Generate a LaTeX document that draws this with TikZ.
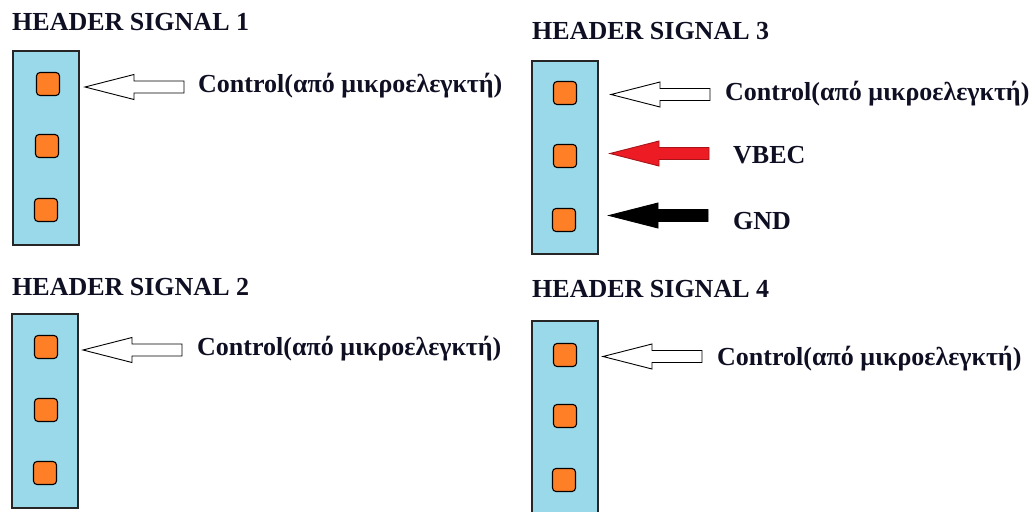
\documentclass[tikz,border=0pt]{standalone}
\usepackage{fontspec}
\setmainfont{Liberation Serif}
\begin{document}
\begin{tikzpicture}[x=1pt,y=-1pt]
\definecolor{pinblue}{RGB}{153,217,234}
\definecolor{padorange}{RGB}{255,127,39}
\definecolor{wirered}{RGB}{237,28,36}
\definecolor{inkc}{RGB}{15,15,35}
\tikzset{
  hdrbox/.style={draw=black!85, line width=1.6pt, fill=pinblue, minimum width=66pt, inner sep=0pt},
  pad/.style={draw=black, line width=1.1pt, fill=padorange, rounded corners=3.5pt, minimum size=23pt, inner sep=0pt},
  title/.style={anchor=base west, inner sep=0pt, font=\fontsize{26}{28}\selectfont\bfseries, text=inkc},
  sig/.style={anchor=base west, inner sep=0pt, font=\fontsize{26}{28}\selectfont\bfseries, text=inkc},
  pics/blockarrow/.style={code={
    \draw[line width=0.9pt, #1] (0,0) -- (49,-12.5) -- (49,-6) -- (99,-6) -- (99,6) -- (49,6) -- (49,12.5) -- cycle;
  }}
}
\useasboundingbox (0,0) rectangle (1035,511);

% ---- header 1 ----
\node[title] (t1) at (12,31) {HEADER SIGNAL 1};
\node[hdrbox, minimum height=194pt] (b1) at (46,148) {};
\node[pad] (p11) at (48,84) {};
\node[pad] (p12) at (47,146) {};
\node[pad] (p13) at (46,210) {};
\pic at (85,87) {blockarrow={draw=black, fill=white}};
\node[sig] (c1) at (198,92) {Control(από μικροελεγκτή)};

% ---- header 2 ----
\node[title] (t2) at (12,295) {HEADER SIGNAL 2};
\node[hdrbox, minimum height=194pt] (b2) at (45,411) {};
\node[pad] (p21) at (46,347) {};
\node[pad] (p22) at (46,410) {};
\node[pad] (p23) at (45,473) {};
\pic at (83,350) {blockarrow={draw=black, fill=white}};
\node[sig] (c2) at (197,355) {Control(από μικροελεγκτή)};

% ---- header 3 ----
\node[title] (t3) at (532,40) {HEADER SIGNAL 3};
\node[hdrbox, minimum height=193pt] (b3) at (565,157.5) {};
\node[pad] (p31) at (565,93) {};
\node[pad] (p32) at (565,156) {};
\node[pad] (p33) at (564,220) {};
\pic at (611,94.5) {blockarrow={draw=black, fill=white}};
\pic at (610,153.5) {blockarrow={draw=wirered!70!black, fill=wirered}};
\pic at (609,215.5) {blockarrow={draw=black, fill=black}};
\node[sig] (c3) at (725,100) {Control(από μικροελεγκτή)};
\node[sig] (v3) at (733,163) {VBEC};
\node[sig] (g3) at (733,229) {GND};

% ---- header 4 ----
\node[title] (t4) at (532,297) {HEADER SIGNAL 4};
\node[hdrbox, minimum height=199pt] (b4) at (565,420.5) {};
\node[pad] (p41) at (565,355) {};
\node[pad] (p42) at (565,416) {};
\node[pad] (p43) at (564,480) {};
\pic at (603,356.5) {blockarrow={draw=black, fill=white}};
\node[sig] (c4) at (717,365) {Control(από μικροελεγκτή)};
\end{tikzpicture}
\end{document}
